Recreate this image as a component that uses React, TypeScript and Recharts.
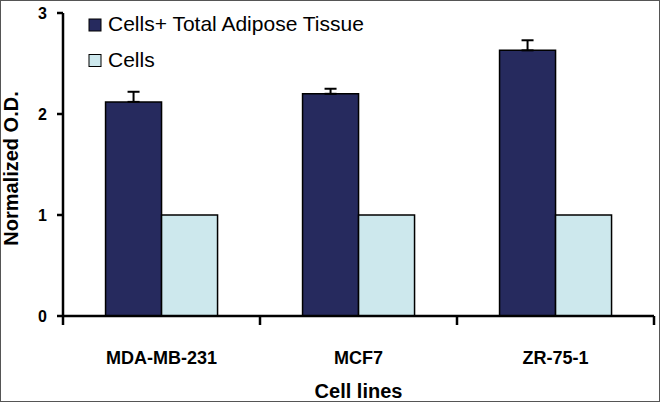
import React from 'react';
import { BarChart, Bar, XAxis, YAxis, ErrorBar, Legend } from 'recharts';

const categories = ['MDA-MB-231', 'MCF7', 'ZR-75-1'];
const tissueValues = [2.12, 2.2, 2.63];
const tissueErrors = [0.1, 0.05, 0.1];
const cellsValues = [1, 1, 1];
const yTicks = [0, 1, 2, 3];

const seriesNames = ['Cells+ Total Adipose Tissue', 'Cells'];

const data = categories.map((name, i) => ({
  name,
  tissue: tissueValues[i],
  tissueErr: [0, tissueErrors[i]],
  cells: cellsValues[i],
}));

const FONT = '"Liberation Sans", Arial, Helvetica, sans-serif';
const DARK = '#262a5e';
const LIGHT = '#cde8ed';

const renderLegend = (props: any) => {
  const payload = [...(props.payload || [])].sort(
    (a: any, b: any) => seriesNames.indexOf(a.value) - seriesNames.indexOf(b.value)
  );
  return (
    <svg width={320} height={80} style={{ display: 'block' }}>
      {payload.map((p: any, i: number) => (
        <g key={i}>
          <rect x={1} y={6 + i * 35.5} width={12} height={12} fill={p.color} stroke="#000" strokeWidth={1} />
          <text x={20} y={18 + i * 35.5} fontSize={21} fontFamily={FONT} fill="#000">
            {p.value}
          </text>
        </g>
      ))}
    </svg>
  );
};

const CategoryTick = (props: any) => {
  const { x, y, payload, index, visibleTicksCount, width } = props;
  const half =
    payload && typeof payload.offset === 'number' && payload.offset > 0
      ? payload.offset
      : width / (visibleTicksCount || 3) / 2;
  const isLast = index === (visibleTicksCount || 3) - 1;
  return (
    <g>
      <line x1={x - half} y1={y} x2={x - half} y2={y + 9} stroke="#000" strokeWidth={2.5} />
      {isLast && <line x1={x + half} y1={y} x2={x + half} y2={y + 9} stroke="#000" strokeWidth={2.5} />}
      <text
        x={x}
        y={y + 35}
        dy="0.71em"
        textAnchor="middle"
        fill="#000"
        fontSize={18}
        fontWeight="bold"
        fontFamily={FONT}
      >
        {payload.value}
      </text>
    </g>
  );
};

export default function App() {
  return (
    <div style={{ position: 'absolute', left: 0, top: 0, width: 661, height: 403, background: '#fff' }}>
      <BarChart
        width={661}
        height={403}
        data={data}
        margin={{ top: 13, right: 7, left: 0, bottom: 0 }}
        barCategoryGap="21.6%"
        barGap={0}
        style={{ fontFamily: FONT }}
      >
        <XAxis
          dataKey="name"
          height={87}
          axisLine={{ stroke: '#000', strokeWidth: 2.5 }}
          tickLine={false}
          tickSize={0}
          tickMargin={0}
          interval={0}
          tick={<CategoryTick />}
          label={{
            value: 'Cell lines',
            position: 'insideBottom',
            offset: 5,
            fill: '#000',
            fontSize: 20,
            fontWeight: 'bold',
            fontFamily: FONT,
          }}
        />
        <YAxis
          width={63}
          domain={[0, 3]}
          ticks={yTicks}
          allowDataOverflow
          tickSize={6}
          tickMargin={10}
          axisLine={{ stroke: '#000', strokeWidth: 2.5 }}
          tickLine={{ stroke: '#000', strokeWidth: 2.5 }}
          tick={{ fill: '#000', fontSize: 16, fontWeight: 'bold', fontFamily: FONT }}
          label={{
            value: 'Normalized O.D.',
            angle: -90,
            position: 'center',
            dx: -21,
            dy: 4,
            fill: '#000',
            fontSize: 20,
            fontWeight: 'bold',
            fontFamily: FONT,
          }}
        />
        <Legend
          layout="vertical"
          align="center"
          verticalAlign="middle"
          wrapperStyle={{ left: 88, top: 13, width: 320, height: 80 }}
          content={renderLegend}
        />
        <Bar
          dataKey="tissue"
          name={seriesNames[0]}
          fill={DARK}
          stroke="#000"
          strokeWidth={1.5}
          isAnimationActive={false}
        >
          <ErrorBar dataKey="tissueErr" width={6} stroke="#000" strokeWidth={2} direction="y" />
        </Bar>
        <Bar
          dataKey="cells"
          name={seriesNames[1]}
          fill={LIGHT}
          stroke="#000"
          strokeWidth={1.5}
          isAnimationActive={false}
        />
      </BarChart>
      <div
        style={{
          position: 'absolute',
          left: 0,
          top: 0,
          width: 660,
          height: 402,
          boxSizing: 'border-box',
          border: '1.5px solid #555',
          pointerEvents: 'none',
        }}
      />
    </div>
  );
}
